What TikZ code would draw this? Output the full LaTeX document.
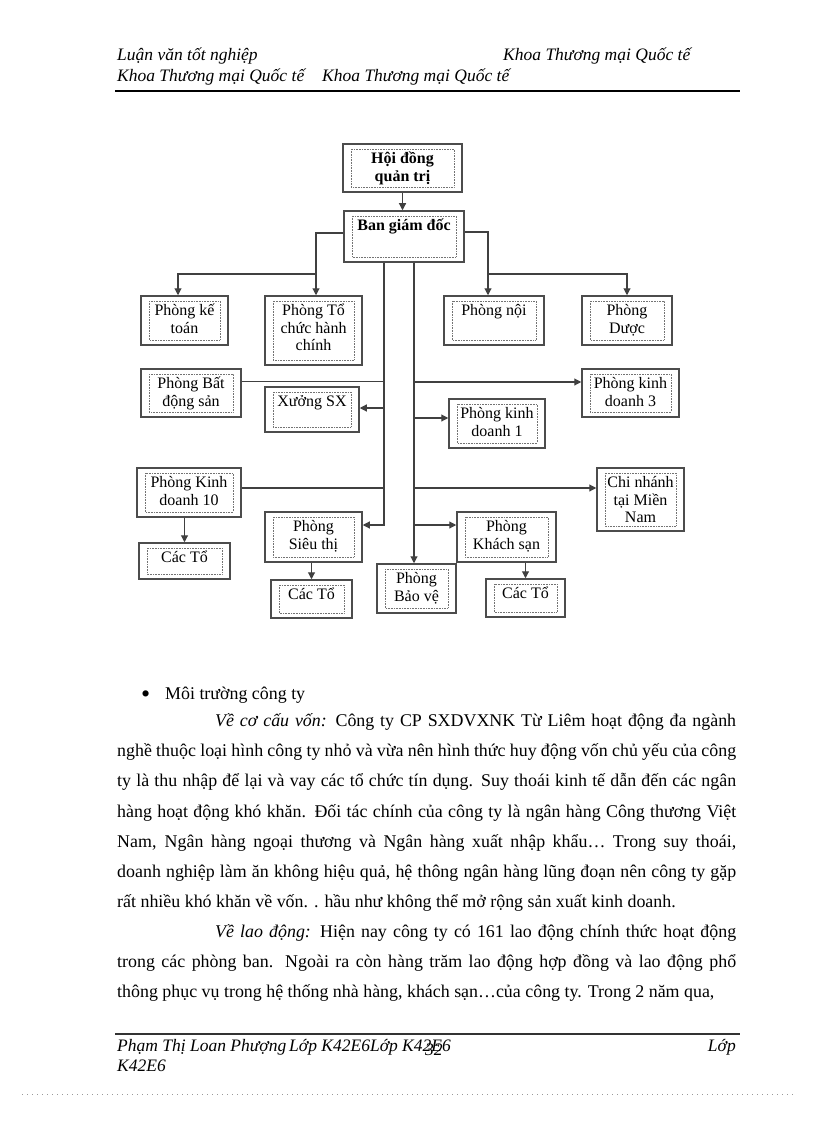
\documentclass[tikz,border=0pt]{standalone}
\usepackage{fontspec}
\setmainfont{Liberation Serif}
\usetikzlibrary{arrows.meta}

\newcommand\topstrut{\rule{0pt}{16pt}}

\begin{document}
\begin{tikzpicture}[x=1pt, y=-1pt,
    box/.style 2 args={draw=black!70, line width=1.5pt, inner sep=0pt,
                minimum width=#1, minimum height=#2,
                path picture={\draw[black!55, densely dotted, line width=0.6pt]
                  ([shift={(8pt,-5pt)}]path picture bounding box.north west) rectangle
                  ([shift={(-8pt,5pt)}]path picture bounding box.south east);}},
    lbl/.style={anchor=north, yshift=-4.5pt, inner sep=0pt, align=center,
                font=\fontsize{16}{17.5}\selectfont},
    blbl/.style={lbl, font=\fontsize{16}{17.5}\selectfont\bfseries},
    ln/.style={draw=black!75, line width=1.1pt},
    arr/.style={ln, -{Triangle[length=7pt,width=7pt]}},
    hdr/.style={anchor=base west, inner sep=0pt, font=\fontsize{17.5}{21}\selectfont\itshape},
    body/.style={anchor=base west, inner sep=0pt, font=\fontsize{17.9}{30.1}\selectfont},
]
\fill[white] (0,0) rectangle (816,1123);
\useasboundingbox (0,0) rectangle (816,1123);

% header
\node[hdr] (h1) at (117,61) {Luận văn tốt nghiệp};
\node[hdr] (h2) at (503,61) {Khoa Thương mại Quốc tế};
\node[hdr] (h3) at (117,82) {Khoa Thương mại Quốc tế};
\node[hdr] (h4) at (322,82) {Khoa Thương mại Quốc tế};
\draw[line width=2.2pt] (115,91) -- (740,91);

% org chart
\node[box={119pt}{48pt}, label={[blbl]north:{\topstrut Hội đồng\\quản trị}}] (hdqt) at (402.5,168) {};
\node[box={120pt}{51pt}, label={[blbl]north:{\topstrut Ban giám đốc}}] (bgd) at (404,236.5) {};

\node[box={87pt}{49pt},  label={[lbl]north:{\topstrut Phòng kế\\toán}}] (ketoan) at (184.5,320.5) {};
\node[box={97pt}{69pt},  label={[lbl]north:{\topstrut Phòng Tổ\\chức hành\\chính}}] (tochuc) at (313.5,330.5) {};
\node[box={100pt}{49pt}, label={[lbl]north:{\topstrut Phòng nội}}] (noi) at (494,320.5) {};
\node[box={90pt}{49pt},  label={[lbl]north:{\topstrut Phòng\\Dược}}] (duoc) at (627,320.5) {};

\node[box={100pt}{48pt}, label={[lbl]north:{\topstrut Phòng Bất\\động sản}}] (batdong) at (191,393) {};
\node[box={94pt}{45pt},  label={[lbl]north:{\topstrut Xưởng SX}}] (xuong) at (312,409.5) {};
\node[box={97pt}{48pt},  label={[lbl]north:{\topstrut Phòng kinh\\doanh 3}}] (kd3) at (630.5,393) {};
\node[box={96pt}{49pt},  label={[lbl]north:{\topstrut Phòng kinh\\doanh 1}}] (kd1) at (497,423.5) {};

\node[box={104pt}{49pt}, label={[lbl]north:{\topstrut Phòng Kinh\\doanh 10}}] (kd10) at (189,492.5) {};
\node[box={87pt}{63pt},  label={[lbl]north:{\topstrut Chi nhánh\\tại Miền\\Nam}}] (chinhanh) at (640.5,499.5) {};
\node[box={91pt}{36pt},  label={[lbl]north:{\topstrut Các Tổ}}] (cacto1) at (184.5,561) {};
\node[box={97pt}{50pt},  label={[lbl]north:{\topstrut Phòng\\Siêu thị}}] (sieuthi) at (313.5,537) {};
\node[box={99pt}{50pt},  label={[lbl]north:{\topstrut Phòng\\Khách sạn}}] (khachsan) at (506.5,537) {};
\node[box={79pt}{49pt},  label={[lbl]north:{\topstrut Phòng\\Bảo vệ}}] (baove) at (416.5,588.5) {};
\node[box={81pt}{38pt},  label={[lbl]north:{\topstrut Các Tổ}}] (cacto2) at (311.5,599) {};
\node[box={79pt}{38pt},  label={[lbl]north:{\topstrut Các Tổ}}] (cacto3) at (525.5,598) {};

\coordinate (trL) at ([xshift=-20pt]bgd.south);
\coordinate (trR) at ([xshift=10pt]bgd.south);
\coordinate (jl) at (316,274);
\coordinate (jr) at (488,274);

\draw[arr] (hdqt.south) -- (hdqt.south |- bgd.north);

\draw[ln]  ([yshift=3.5pt]bgd.west) -| (jl);
\draw[arr] (jl) -- (jl |- tochuc.north);
\draw[arr] (jl) -| ([xshift=-6.5pt]ketoan.north);
\draw[ln]  ([yshift=4.5pt]bgd.east) -| (jr);
\draw[arr] (jr) -- (jr |- noi.north);
\draw[arr] (jr) -| (duoc.north);

\draw[arr] (trL) |- ([yshift=12pt]sieuthi.east);
\draw[arr] (trR) -- (trR |- baove.north);
\draw[ln]  ([yshift=11.5pt]batdong.east) -| (trL);
\draw[arr] (trL) |- ([yshift=1.5pt]xuong.east);
\draw[ln]  ([yshift=4.5pt]kd10.east) -| (trL);
\draw[arr] (trR) |- ([yshift=11pt]kd3.west);
\draw[arr] (trR) |- ([yshift=5.5pt]kd1.west);
\draw[arr] (trR) |- ([yshift=11.5pt]chinhanh.west);
\draw[arr] (trR) |- ([yshift=12pt]khachsan.west);
\draw[arr] (kd10.south -| cacto1.north) -- (cacto1.north);
\draw[arr] (sieuthi.south -| cacto2.north) -- (cacto2.north);
\draw[arr] (khachsan.south -| cacto3.north) -- (cacto3.north);

% body text
\node[body] (bul) at (141,699.5) {\makebox[24pt][l]{\fontsize{26}{26}\selectfont\raisebox{-2.5pt}{•}}Môi trường công ty};
\node[body, anchor=north west, align=left] (par) at (117,705.5) {%
\strut\makebox[619pt][s]{\hspace*{98pt}\textit{Về cơ cấu vốn:} Công ty CP SXDVXNK  Từ Liêm hoạt động đa ngành}\\
\makebox[619pt][s]{nghề thuộc loại hình công ty nhỏ và vừa nên hình thức huy động vốn chủ yếu của công}\\
\makebox[619pt][s]{ty là thu nhập để lại và vay  các tổ chức tín dụng. Suy thoái kinh tế dẫn đến các ngân}\\
\makebox[619pt][s]{hàng hoạt động khó khăn. Đối tác chính của công ty là ngân hàng Công thương Việt}\\
\makebox[619pt][s]{Nam, Ngân hàng ngoại thương và Ngân hàng xuất nhập khẩu… Trong suy thoái,}\\
\makebox[619pt][s]{doanh nghiệp làm ăn không hiệu quả, hệ thông ngân hàng lũng đoạn nên công ty gặp}\\
rất nhiều khó khăn về vốn. . hầu như không thể mở rộng sản xuất kinh doanh.\\
\makebox[619pt][s]{\hspace*{98pt}\textit{Về lao động:} Hiện nay công ty có 161 lao động chính thức hoạt động}\\
\makebox[619pt][s]{trong các phòng ban. Ngoài ra còn hàng trăm lao động hợp đồng và lao động phổ}\\
thông phục vụ trong hệ thống nhà hàng, khách sạn…của công ty. Trong 2 năm qua,};

% footer
\draw[line width=1.3pt, black!80] (115,1034) -- (740,1034);
\node[hdr] (f1) at (117,1051) {Phạm Thị Loan Phượng\,Lớp K42E6Lớp K42E6};
\node[hdr] (pg) at (425,1055) {32};
\node[hdr, anchor=base east] (f2) at (736,1051) {Lớp};
\node[hdr] (f3) at (117,1071) {K42E6};
\draw[black!40, line width=0.8pt, dash pattern=on 0.8pt off 4.2pt] (22,1094) -- (796,1094);
\end{tikzpicture}
\end{document}
